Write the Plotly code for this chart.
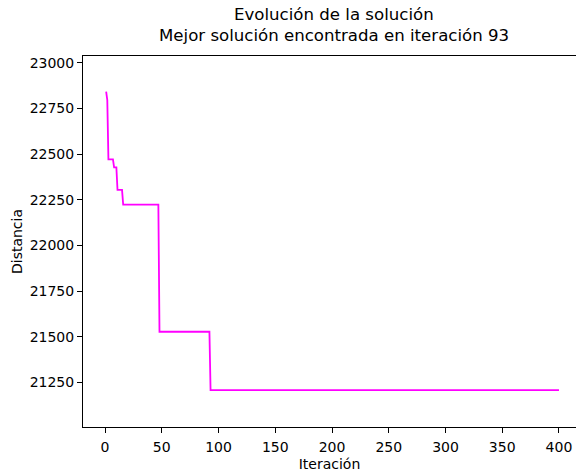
import plotly.graph_objects as go

# Data (iteration, distance)
iteraciones = [1, 2, 3, 7, 8, 10, 11, 15, 16, 47, 48, 92, 93, 400]
distancias = [22843, 22797, 22472, 22472, 22428, 22428, 22304, 22304,
              22224, 22224, 21527, 21527, 21207, 21207]
x_ticks = [0, 50, 100, 150, 200, 250, 300, 350, 400]
y_ticks = [21250, 21500, 21750, 22000, 22250, 22500, 22750, 23000]
mejor_iter = 93

FONT = "DejaVu Sans"

fig = go.Figure()
fig.add_trace(go.Scatter(
    x=iteraciones, y=distancias, mode="lines",
    line=dict(color="#FF00FF", width=1.8), showlegend=False,
))

titulos = ["Evolución de la solución",
           f"Mejor solución encontrada en iteración {mejor_iter}"]
centros_y = [15, 35]
for txt, cy in zip(titulos, centros_y):
    fig.add_annotation(
        text=txt, xref="paper", yref="paper",
        x=(334 - 83) / 493, y=1 + (56 - cy) / 371.0,
        xanchor="center", yanchor="middle", showarrow=False,
        font=dict(family=FONT, size=16.6, color="#000000"),
    )

fig.update_layout(
    width=576, height=475,
    margin=dict(l=83, r=0, t=56, b=48),
    paper_bgcolor="white", plot_bgcolor="white",
    font=dict(family=FONT, size=14, color="#000000"),
    xaxis=dict(
        range=[-19.4, 415], tickvals=x_ticks, ticktext=[str(v) for v in x_ticks],
        showgrid=False, zeroline=False, showline=True, linecolor="#000000",
        linewidth=1, mirror=True, ticks="outside", ticklen=5, tickwidth=1,
        tickcolor="#000000", tickfont=dict(size=14), ticklabelstandoff=2,
        title=dict(text="Iteración", font=dict(size=14), standoff=5),
    ),
    yaxis=dict(
        range=[21005, 23038], tickvals=y_ticks, ticktext=[str(v) for v in y_ticks],
        showgrid=False, zeroline=False, showline=True, linecolor="#000000",
        linewidth=1, mirror=False, ticks="outside", ticklen=5, tickwidth=1,
        tickcolor="#000000", tickfont=dict(size=14),
        title=dict(text="Distancia", font=dict(size=14), standoff=3),
    ),
)

fig.write_html("out.html")
